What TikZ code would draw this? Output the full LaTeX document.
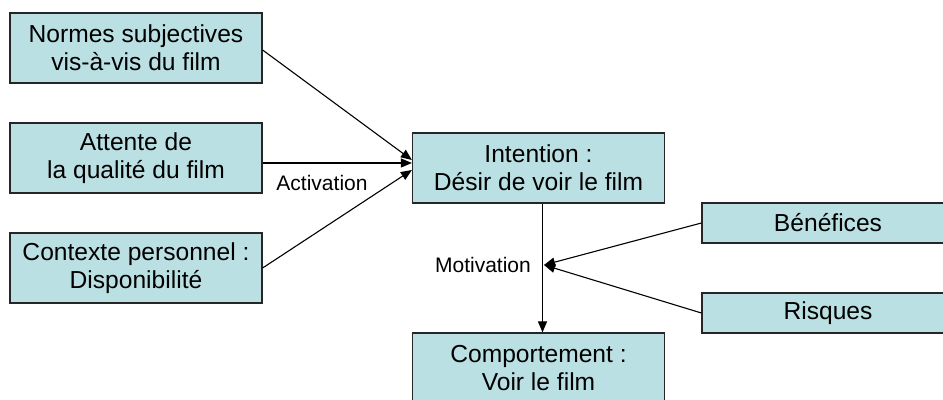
\documentclass[tikz,border=0pt]{standalone}
\usepackage{fontspec}
\setmainfont{Liberation Sans}
\usetikzlibrary{arrows.meta}
\definecolor{boxfill}{RGB}{187,224,227}
\begin{document}
\begin{tikzpicture}[x=0.5pt,y=-0.5pt,
	box/.style={draw=black!85, line width=0.6pt, fill=boxfill, minimum width=126pt, minimum height=35pt, align=center, font=\fontsize{12.3}{14}\selectfont, inner sep=0pt},
	lbl/.style={font=\fontsize{10.5}{12}\selectfont},
	arr/.style={-{Triangle[length=5.5pt,width=4.5pt]}, line width=0.55pt}]
	\useasboundingbox (0,0) rectangle (943,400);
	\clip (0,0) rectangle (943,400);
	
	\node[box] (norm) at (136,48) {Normes subjectives\\vis-à-vis du film};
	\node[box] (att) at (136,158) {Attente de\\la qualité du film};
	\node[box] (ctx) at (136,268) {Contexte personnel :\\Disponibilité};
	\node[box] (int) at (538.5,168) {Intention :\\Désir de voir le film};
	\node[box] (comp) at (538.5,368) {Comportement :\\Voir le film};
	\node[box, minimum height=20pt] (ben) at (828,223) {Bénéfices};
	\node[box, minimum height=20pt] (ris) at (828,313) {Risques};
	
	\coordinate (mot) at (544,265);
	
	\draw[arr] ([yshift=-1pt]norm.east) -- ([yshift=4pt]int.west);
	\draw[arr] ([yshift=-2.5pt]att.east) -- ([yshift=2.5pt]int.west);
	\draw[arr] (ctx.east) -- ([yshift=-1pt]int.west);
	\node[lbl] (act) at (322,183) {Activation};
	
	\draw[arr] ([xshift=2pt]int.south) -- ([xshift=2pt]comp.north);
	\draw[arr] (ben.west) -- (mot);
	\draw[arr] (ris.west) -- (mot);
	\node[lbl] (motl) at (483,265) {Motivation};
\end{tikzpicture}
\end{document}
